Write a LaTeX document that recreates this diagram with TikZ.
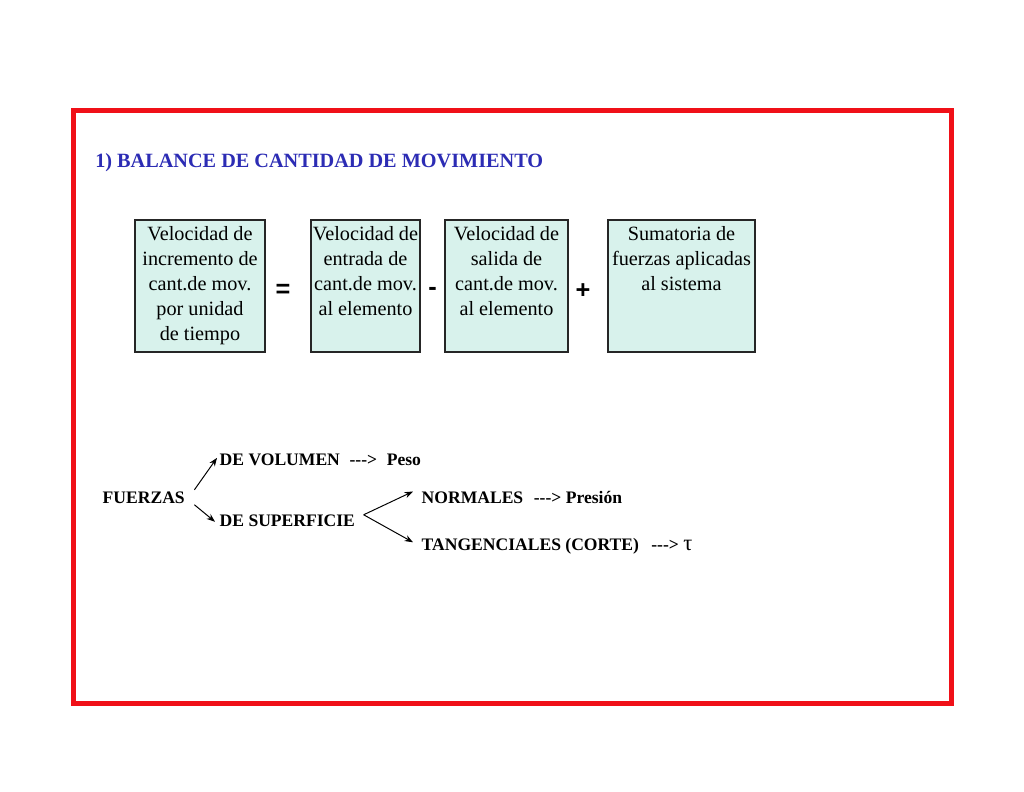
\documentclass[tikz,border=0pt]{standalone}
\usepackage{fontspec}
\setmainfont{Liberation Serif}
\newfontfamily\signfont{Liberation Sans}
\usepackage{tikz}
\usetikzlibrary{arrows.meta, positioning, calc}
\definecolor{frameRed}{RGB}{240,16,24}
\definecolor{titleBlue}{RGB}{44,44,180}
\definecolor{boxFill}{RGB}{216,242,236}

\begin{document}
\begin{tikzpicture}[x=0.025cm, y=-0.025cm,
    termbox/.style={draw=black!85, line width=0.8pt, fill=boxFill, minimum height=3.3cm},
    termtext/.style={anchor=north, inner sep=0pt, align=center, font=\fontsize{14.4}{17.8}\selectfont},
    sign/.style={inner sep=0pt, font=\signfont\bfseries\fontsize{18}{18}\selectfont},
    lbl/.style={anchor=base west, inner sep=1pt, font=\bfseries\fontsize{12.5}{14}\selectfont},
    arr/.style={-{Stealth[length=6pt, width=4.5pt]}, line width=0.7pt}
]
\useasboundingbox (0,0) rectangle (1024,791);
\draw[frameRed, line width=0.125cm] (73,110) rectangle (951,703);
\node[anchor=base west, inner sep=0pt, text=titleBlue, font=\bfseries\fontsize{14.4}{17}\selectfont] (title) at (95,167) {1) BALANCE DE CANTIDAD DE MOVIMIENTO};

\node[termbox, minimum width=3.25cm] (incr) at (200,286) {};
\node[termbox, minimum width=2.725cm] (inflow) at (365.5,286) {};
\node[termbox, minimum width=3.075cm] (outflow) at (506.5,286) {};
\node[termbox, minimum width=3.675cm] (forces) at (681.5,286) {};
\node[termtext] (incrText) at ($(incr.north)+(0,7)$) {Velocidad de\\incremento de\\cant.de mov.\\por unidad\\de tiempo};
\node[termtext] (inflowText) at ($(inflow.north)+(0,7)$) {Velocidad de\\entrada de\\cant.de mov.\\al elemento};
\node[termtext] (outflowText) at ($(outflow.north)+(0,7)$) {Velocidad de\\salida de\\cant.de mov.\\al elemento};
\node[termtext] (forcesText) at ($(forces.north)+(0,7)$) {Sumatoria de\\fuerzas aplicadas\\al sistema};

\node[sign] (eqSign) at ($($(incr.east)!0.5!(inflow.west)$)+(-5,5)$) {=};
\node[sign] (minusSign) at ($($(inflow.east)!0.5!(outflow.west)$)+(0,5)$) {-};
\node[sign] (plusSign) at ($($(outflow.east)!0.5!(forces.west)$)+(-5,5)$) {+};

\node[lbl] (fuerzas) at (101,503.5) {FUERZAS};
\node[lbl] (volumen) at (218,465.5) {DE VOLUMEN\hspace{0.55em}-{}-{}->\hspace{0.55em}Peso};
\node[lbl] (superficie) at (218,526.5) {DE SUPERFICIE};
\node[lbl] (normales) at (420,503.5) {NORMALES\hspace{0.6em}-{}-{}-> Presión};
\node[lbl] (tangenciales) at (420,550.5) {TANGENCIALES (CORTE)\hspace{0.7em}-{}-{}-> {\mdseries\fontsize{16}{16}\selectfont τ}};

\draw[arr] ($(fuerzas.east)+(8,-8)$) -- ($(volumen.west)+(-1,-2)$);
\draw[arr] ($(fuerzas.east)+(8,7)$) -- ($(superficie.west)+(-3,1)$);
\draw[arr] ($(superficie.east)+(7,-6)$) -- ($(normales.west)+(-7,-6)$);
\draw[arr] ($(superficie.east)+(7,-6)$) -- ($(tangenciales.west)+(-7,-4)$);
\end{tikzpicture}
\end{document}
